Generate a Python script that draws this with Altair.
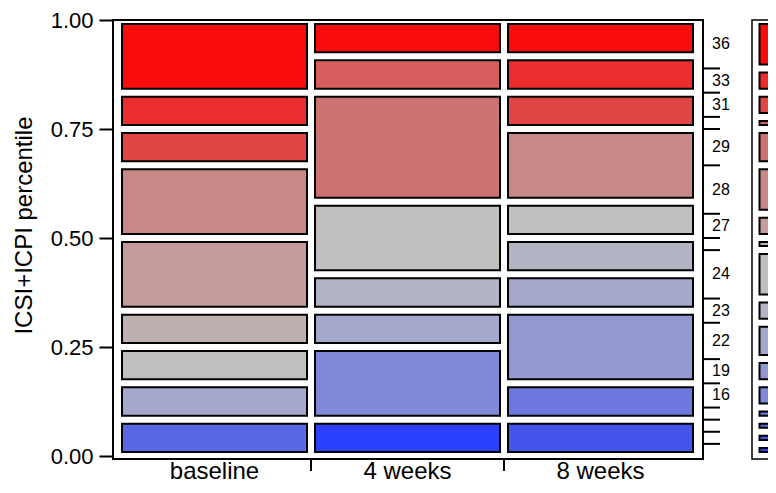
import altair as alt
import pandas as pd

# ---------------- data ----------------
groups = ["baseline", "4 weeks", "8 weeks"]
# ICSI+ICPI score levels, highest (top) to lowest (bottom)
levels = ["36", "33", "31", "30", "29", "28", "27", "25", "24",
          "23", "22", "19", "16", "14", "13", "11", "9"]
counts_baseline = [2, 1, 1, 0, 0, 2, 2, 1, 1, 0, 1, 0, 0, 0, 1, 0, 0]
counts_4weeks   = [1, 0, 0, 1, 3, 0, 0, 0, 2, 1, 1, 0, 2, 0, 0, 0, 1]
counts_8weeks   = [1, 1, 1, 0, 0, 2, 0, 0, 1, 1, 1, 2, 0, 1, 0, 1, 0]
y_ticks = [0, 0.25, 0.5, 0.75, 1.0]

# style: one colour per level (red -> grey -> blue)
level_colors = ["#f80c0c", "#ea2e2e", "#e04646", "#d85e5e", "#cc7272",
                "#c88888", "#c49c9c", "#bfb0b0", "#c0c0c0", "#b2b4c4",
                "#a4a8cc", "#9498d0", "#8088d8", "#6c78e0", "#5a68e4",
                "#4455ee", "#2c40ff"]

# ---------------- tables ----------------
rows = []
for gi, (g, cnts) in enumerate(zip(groups, [counts_baseline, counts_4weeks, counts_8weeks])):
    total = sum(cnts)
    cum = 0
    for lev, c in zip(reversed(levels), reversed(cnts)):
        if c == 0:
            continue
        rows.append(dict(group=g, gx0=gi, gx1=gi + 1,
                         lo=cum / total, hi=(cum + c) / total, level=lev))
        cum += c
df_cells = pd.DataFrame(rows)

marg = [a + b + c for a, b, c in zip(counts_baseline, counts_4weeks, counts_8weeks)]
mtotal = sum(marg)
mrows = []
cum = 0
for lev, c in zip(reversed(levels), reversed(marg)):
    mrows.append(dict(level=lev, n=c, lo=cum / mtotal, hi=(cum + c) / mtotal,
                      mid=(cum + c / 2) / mtotal))
    cum += c
df_marg = pd.DataFrame(mrows)
df_bounds = pd.DataFrame({"b": [r["hi"] for r in mrows[:-1]]})
df_xl = pd.DataFrame({"g": groups, "c": [i + 0.5 for i in range(len(groups))]})
df_xt = pd.DataFrame({"b": list(range(1, len(groups)))})

# ---------------- chart ----------------
W, H = 590, 439
FONT = "Liberation Sans"
xs = alt.Scale(domain=[-0.026, 3.031], nice=False, zero=False)
ys = alt.Scale(domain=[-3 / 436, 1], nice=False, zero=False)
cs = alt.Scale(domain=levels, range=level_colors)
yaxis = alt.Axis(
    values=y_ticks, format=".2f", tickSize=14, tickWidth=2, tickColor="black",
    labelFont=FONT, labelFontSize=22, labelColor="black", labelPadding=6,
    labelFlush=False, labelOverlap=False, domain=False, grid=False, title=None)

mosaic = alt.Chart(df_cells).mark_rect(
    stroke="black", strokeWidth=2, xOffset=4, x2Offset=-4, yOffset=4, y2Offset=-4
).encode(
    x=alt.X("gx0:Q", scale=xs, axis=None),
    x2="gx1:Q",
    y=alt.Y("hi:Q", scale=ys, axis=yaxis),
    y2="lo:Q",
    color=alt.Color("level:N", scale=cs, legend=None),
)

rticks = alt.Chart(df_bounds).mark_rule(color="black", strokeWidth=2).encode(
    y=alt.Y("b:Q", scale=ys, axis=yaxis),
    x=alt.value(W), x2=alt.value(W + 17),
)

rlabels = alt.Chart(df_marg).transform_filter("datum.n >= 2").mark_text(
    align="left", baseline="middle", font=FONT, fontSize=16, color="black"
).encode(
    y=alt.Y("mid:Q", scale=ys, axis=yaxis),
    x=alt.value(W + 9),
    text="level:N",
)

sframe = alt.Chart(alt.Data(values=[{"k": 1}])).mark_rect(
    fillOpacity=0, stroke="black", strokeWidth=1.5
).encode(
    x=alt.value(W + 49), x2=alt.value(W + 130), y=alt.value(0), y2=alt.value(H),
)

strip = alt.Chart(df_marg).mark_rect(
    stroke="black", strokeWidth=2, yOffset=4, y2Offset=-4
).encode(
    y=alt.Y("hi:Q", scale=ys, axis=yaxis),
    y2="lo:Q",
    x=alt.value(W + 56.5), x2=alt.value(W + 120),
    color=alt.Color("level:N", scale=cs, legend=None),
)

xticks = alt.Chart(df_xt).mark_rule(color="black", strokeWidth=2).encode(
    x=alt.X("b:Q", scale=xs, axis=None),
    y=alt.value(H), y2=alt.value(H + 12),
)

xlabels = alt.Chart(df_xl).mark_text(
    font=FONT, fontSize=24, baseline="alphabetic", align="center", color="black"
).encode(
    x=alt.X("c:Q", scale=xs, axis=None),
    y=alt.value(459),
    text="g:N",
)

ytitle = alt.Chart(alt.Data(values=[{"t": "ICSI+ICPI percentile"}])).mark_text(
    font=FONT, fontSize=24, angle=270, align="center", baseline="middle", color="black"
).encode(
    x=alt.value(-88), y=alt.value(205.5), text="t:N",
)

chart = alt.layer(
    mosaic, rticks, rlabels, sframe, strip, xticks, xlabels, ytitle
).properties(
    width=W, height=H,
    autosize=alt.AutoSizeParams(type="none"),
    padding={"left": 105, "top": 12, "right": 65, "bottom": 26},
    background="white",
).configure_view(stroke="black", strokeWidth=2)

chart.save("out.html", embed_options={"renderer": "svg", "actions": False})
